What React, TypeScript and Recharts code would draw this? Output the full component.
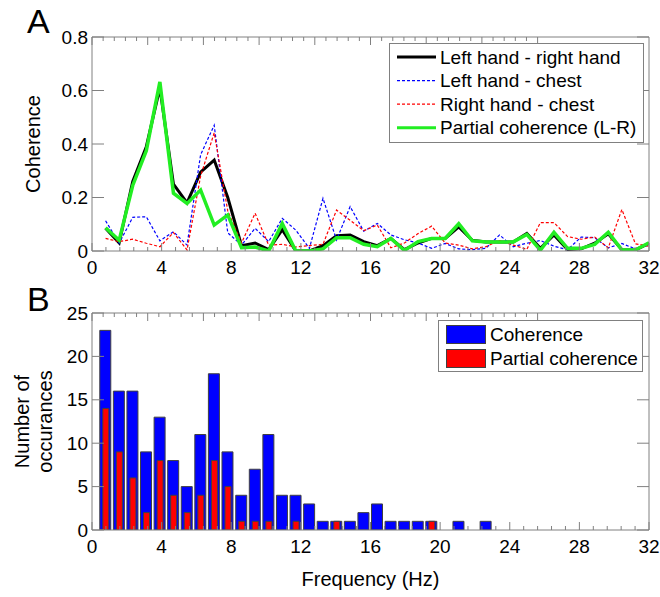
import React from 'react';
import { ComposedChart, Line, Bar, XAxis, YAxis } from 'recharts';

// frequency bins (Hz)
const freqs = [
  0.78, 1.56, 2.34, 3.12, 3.9, 4.68, 5.46, 6.24, 7.02, 7.8, 8.59, 9.37, 10.15, 10.93,
  11.71, 12.49, 13.27, 14.05, 14.83, 15.61, 16.39, 17.17, 17.95, 18.73, 19.51, 20.29,
  21.07, 21.85, 22.63, 23.41, 24.2, 24.98, 25.76, 26.54, 27.32, 28.1, 28.88, 29.66,
  30.44, 31.22, 32.0,
];

// panel A
const leftRight = [
  0.085, 0.03, 0.26, 0.39, 0.61, 0.25, 0.18, 0.295, 0.34, 0.2, 0.02, 0.03, 0.005, 0.08,
  0.0, 0.0, 0.02, 0.057, 0.06, 0.035, 0.02, 0.047, 0.005, 0.03, 0.047, 0.047, 0.09,
  0.04, 0.034, 0.034, 0.034, 0.066, 0.01, 0.06, 0.006, 0.008, 0.029, 0.064, 0.005,
  0.004, 0.029,
];
const leftChest = [
  0.113, 0.029, 0.126, 0.128, 0.038, 0.072, 0.022, 0.36, 0.47, 0.068, 0.022, 0.085,
  0.035, 0.122, 0.078, 0.01, 0.197, 0.041, 0.166, 0.074, 0.103, 0.06, 0.042, 0.03, 0.01,
  0.028, 0.008, 0.005, 0.01, 0.06, 0.016, 0.029, 0.039, 0.018, 0.005, 0.052, 0.05,
  0.012, 0.028, 0.008, 0.022,
];
const rightChest = [
  0.047, 0.035, 0.044, 0.029, 0.016, 0.069, 0.004, 0.28, 0.442, 0.15, 0.03, 0.141,
  0.022, 0.025, 0.015, 0.02, 0.025, 0.153, 0.115, 0.076, 0.097, 0.012, 0.03, 0.065,
  0.093, 0.03, 0.022, 0.008, 0.016, 0.039, 0.022, 0.006, 0.106, 0.106, 0.054, 0.044,
  0.052, 0.012, 0.155, 0.027, 0.018,
];
const partialLR = [
  0.087, 0.04, 0.245, 0.375, 0.632, 0.216, 0.178, 0.228, 0.097, 0.135, 0.012, 0.015,
  0.0, 0.103, 0.0, 0.0, 0.008, 0.05, 0.05, 0.025, 0.016, 0.047, 0.002, 0.035, 0.047,
  0.047, 0.102, 0.038, 0.034, 0.034, 0.034, 0.062, 0.003, 0.07, 0.01, 0.01, 0.025,
  0.07, 0.004, 0.004, 0.031,
];

// panel B
const cohCount = [
  23, 16, 16, 9, 13, 8, 5, 11, 18, 9, 4, 7, 11, 4, 4, 3, 1, 1, 1, 2, 3, 1, 1, 1, 1, 0,
  1, 0, 1, 0, 0, 0, 0, 0, 0, 0, 0, 0, 0, 0, 0,
];
const partialCount = [
  14, 9, 6, 2, 8, 4, 2, 4, 8, 5, 1, 1, 1, 0, 1, 0, 0, 1, 0, 0, 0, 0, 0, 0, 1, 0, 0, 0,
  0, 0, 0, 0, 0, 0, 0, 0, 0, 0, 0, 0, 0,
];

const freqTicks = Array.from({ length: 41 }, (_, i) => +(i * 0.8).toFixed(1));
const coherenceTicks = [0, 0.2, 0.4, 0.6, 0.8];
const countTicks = [0, 5, 10, 15, 20, 25];

const legendA = [
  { label: 'Left hand - right hand', color: '#000000', width: 3, dash: undefined },
  { label: 'Left hand - chest', color: '#0000ff', width: 1.2, dash: '3 2' },
  { label: 'Right hand - chest', color: '#ff0000', width: 1.2, dash: '3 2' },
  { label: 'Partial coherence (L-R)', color: '#22ee22', width: 3, dash: undefined },
];
const legendB = [
  { label: 'Coherence', color: '#0000ff' },
  { label: 'Partial coherence', color: '#ff0000' },
];

const lineData = freqs.map((f, i) => ({
  f,
  lr: leftRight[i],
  lc: leftChest[i],
  rc: rightChest[i],
  pc: partialLR[i],
}));
const barData = freqs.map((f, i) => ({ f, coh: cohCount[i], part: partialCount[i] }));

const FONT = '"Liberation Sans", Arial, sans-serif';
const AXIS = '#808080';
const isMajor = (v: number) => Math.abs(v % 4) < 1e-6;

const BottomTick = (props: any) => {
  const { x, y, payload } = props;
  const v = payload.value;
  const major = isMajor(v);
  return (
    <g>
      <line x1={x} y1={y} x2={x} y2={y - (major ? 8 : 4)} stroke={AXIS} />
      {major && (
        <text x={x} y={y + 16} textAnchor="middle" dominantBaseline="central" fontSize={19} fontFamily={FONT} fill="#000">
          {v}
        </text>
      )}
    </g>
  );
};

const TopTick = (props: any) => {
  const { x, y, payload } = props;
  const major = isMajor(payload.value);
  return <line x1={x} y1={y} x2={x} y2={y + (major ? 8 : 4)} stroke={AXIS} />;
};

const LeftTick = (props: any) => {
  const { x, y, payload } = props;
  return (
    <g>
      <line x1={x} y1={y} x2={x + 12} y2={y} stroke={AXIS} />
      <text x={x - 4} y={y} textAnchor="end" dominantBaseline="central" fontSize={19} fontFamily={FONT} fill="#000">
        {payload.value}
      </text>
    </g>
  );
};

const RightTick = (props: any) => {
  const { x, y } = props;
  return <line x1={x} y1={y} x2={x - 12} y2={y} stroke={AXIS} />;
};

const SideLabel = ({ viewBox, lines }: any) => {
  const cy = viewBox.y + viewBox.height / 2;
  const x0 = lines.length > 1 ? 22 : 33;
  return (
    <g>
      {lines.map((t: string, i: number) => (
        <text
          key={t}
          x={x0 + i * 23}
          y={cy}
          transform={`rotate(-90, ${x0 + i * 23}, ${cy})`}
          textAnchor="middle"
          dominantBaseline="central"
          fontSize={20}
          fontFamily={FONT}
          fill="#000"
        >
          {t}
        </text>
      ))}
    </g>
  );
};

const Overlay = () => (
  <svg width={660} height={597} style={{ position: 'absolute', left: 0, top: 0, pointerEvents: 'none' }}>
    <text x={27} y={33} fontSize={34} fontFamily={FONT} fill="#000">A</text>
    <text x={27} y={311} fontSize={34} fontFamily={FONT} fill="#000">B</text>

    <rect x={389.5} y={43.5} width={254} height={99} fill="#fff" stroke={AXIS} />
    {legendA.map((e, i) => {
      const cy = 57 + i * 23.6;
      return (
        <g key={e.label}>
          <line x1={397} x2={436} y1={cy} y2={cy} stroke={e.color} strokeWidth={e.width} strokeDasharray={e.dash} />
          <text x={440} y={cy} dominantBaseline="central" fontSize={19} fontFamily={FONT} fill="#000">
            {e.label}
          </text>
        </g>
      );
    })}

    <rect x={438.5} y={320.5} width={204} height={51} fill="#fff" stroke={AXIS} />
    {legendB.map((e, i) => {
      const cy = 334 + i * 24;
      return (
        <g key={e.label}>
          <rect x={446.5} y={cy - 8.5} width={39} height={18} fill={e.color} stroke="#404040" />
          <text x={490} y={cy} dominantBaseline="central" fontSize={19} fontFamily={FONT} fill="#000">
            {e.label}
          </text>
        </g>
      );
    })}
  </svg>
);

export default function App() {
  return (
    <div style={{ position: 'absolute', left: 0, top: 0, width: 660, height: 597, background: '#fff', fontFamily: FONT }}>
      <div style={{ position: 'absolute', left: 0, top: 0 }}>
        <ComposedChart width={660} height={285} data={lineData} margin={{ top: 37, right: 11, bottom: 0, left: 0 }}>
          <XAxis xAxisId="x" dataKey="f" type="number" domain={[0, 32]} allowDataOverflow ticks={freqTicks} interval={0}
            height={34} tickSize={0} tickMargin={0} tickLine={false} tick={<BottomTick />} stroke={AXIS} />
          <XAxis xAxisId="top" orientation="top" mirror type="number" domain={[0, 32]} allowDataOverflow ticks={freqTicks}
            interval={0} tickSize={0} tickMargin={0} tickLine={false} tick={<TopTick />} stroke={AXIS} />
          <YAxis yAxisId="y" type="number" domain={[0, 0.8]} allowDataOverflow ticks={coherenceTicks} interval={0} width={92}
            tickSize={0} tickMargin={0} tickLine={false} tick={<LeftTick />} stroke={AXIS}
            label={<SideLabel lines={['Coherence']} />} />
          <YAxis yAxisId="yr" orientation="right" mirror type="number" domain={[0, 0.8]} allowDataOverflow ticks={coherenceTicks}
            interval={0} tickSize={0} tickMargin={0} tickLine={false} tick={<RightTick />} stroke={AXIS} />
          <Line xAxisId="x" yAxisId="y" dataKey="lr" type="linear" stroke="#000000" strokeWidth={3} dot={false} isAnimationActive={false} />
          <Line xAxisId="x" yAxisId="y" dataKey="lc" type="linear" stroke="#0000ff" strokeWidth={1.2} strokeDasharray="3 2" dot={false} isAnimationActive={false} />
          <Line xAxisId="x" yAxisId="y" dataKey="rc" type="linear" stroke="#ff0000" strokeWidth={1.2} strokeDasharray="3 2" dot={false} isAnimationActive={false} />
          <Line xAxisId="x" yAxisId="y" dataKey="pc" type="linear" stroke="#22ee22" strokeWidth={3.5} dot={false} isAnimationActive={false} />
        </ComposedChart>
      </div>
      <div style={{ position: 'absolute', left: 0, top: 280 }}>
        <ComposedChart width={660} height={317} data={barData} margin={{ top: 33, right: 11, bottom: 0, left: 0 }}>
          <XAxis xAxisId="bx" dataKey="f" type="number" domain={[0, 32]} allowDataOverflow ticks={freqTicks} interval={0}
            height={67} tickSize={0} tickMargin={0} tickLine={false} tick={<BottomTick />} stroke={AXIS}
            label={{ value: 'Frequency (Hz)', position: 'insideBottom', offset: 11, fontSize: 20, fill: '#000', fontFamily: FONT }} />
          <XAxis xAxisId="bxr" dataKey="f" type="number" domain={[0, 32]} allowDataOverflow ticks={freqTicks} hide />
          <XAxis xAxisId="top" orientation="top" mirror type="number" domain={[0, 32]} allowDataOverflow ticks={freqTicks}
            interval={0} tickSize={0} tickMargin={0} tickLine={false} tick={<TopTick />} stroke={AXIS} />
          <YAxis yAxisId="y" type="number" domain={[0, 25]} allowDataOverflow ticks={countTicks} interval={0} width={92}
            tickSize={0} tickMargin={0} tickLine={false} tick={<LeftTick />} stroke={AXIS}
            label={<SideLabel lines={['Number of', 'occurances']} />} />
          <YAxis yAxisId="yr" orientation="right" mirror type="number" domain={[0, 25]} allowDataOverflow ticks={countTicks}
            interval={0} tickSize={0} tickMargin={0} tickLine={false} tick={<RightTick />} stroke={AXIS} />
          <Bar xAxisId="bx" yAxisId="y" dataKey="coh" fill="#0000ff" stroke="#404040" strokeWidth={1} barSize={11} isAnimationActive={false} />
          <Bar xAxisId="bxr" yAxisId="y" dataKey="part" fill="#ff0000" stroke="#404040" strokeWidth={1} barSize={6} isAnimationActive={false} />
        </ComposedChart>
      </div>
      <Overlay />
    </div>
  );
}
